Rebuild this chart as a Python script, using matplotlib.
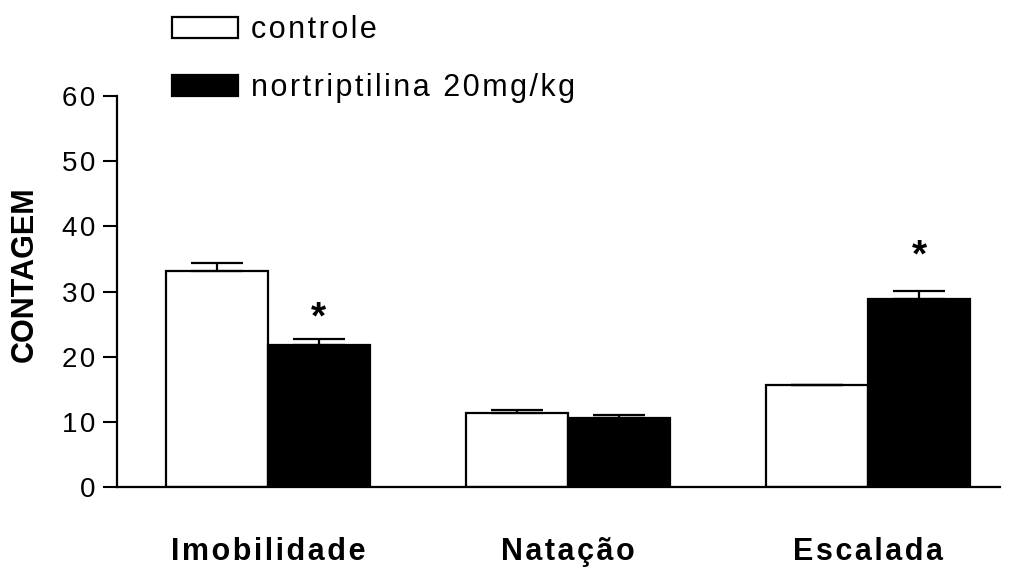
import numpy as np
import matplotlib.pyplot as plt

plt.rcParams['font.family'] = ['Liberation Sans', 'DejaVu Sans']

# data
groups = ['Imobilidade', 'Natação', 'Escalada']
controle = [33.1, 11.4, 15.6]
controle_sem = [1.2, 0.4, 0.0]
nortrip = [21.8, 10.6, 28.9]
nortrip_sem = [0.9, 0.5, 1.2]
star_height = [25.9, None, 35.4]   # where the '*' sits (nortriptilina bars)
yticks = [0, 10, 20, 30, 40, 50, 60]
labels = ['controle', 'nortriptilina 20mg/kg']


def spaced(s, sep='\u200a'):
    # the original uses slightly wide letter spacing
    return sep.join(s)


fig = plt.figure(figsize=(10.11, 5.71), dpi=100)
ax = fig.add_axes([117 / 1011, 84 / 571, 883 / 1011, 391 / 571])

x = np.arange(len(groups))
w = 0.34
b1 = ax.bar(x - w / 2, controle, w, color='white', edgecolor='black',
            linewidth=1.6, label=spaced(labels[0]), zorder=2)
b2 = ax.bar(x + w / 2, nortrip, w, color='black', edgecolor='black',
            linewidth=1.6, label=spaced(labels[1]), zorder=2)

ax.errorbar(x - w / 2, controle, yerr=[np.zeros(len(x)), controle_sem],
            fmt='none', ecolor='black', elinewidth=1.6, capsize=18.5,
            capthick=1.6, zorder=3)
ax.errorbar(x + w / 2, nortrip, yerr=[np.zeros(len(x)), nortrip_sem],
            fmt='none', ecolor='black', elinewidth=1.6, capsize=18.5,
            capthick=1.6, zorder=3)

for i, h in enumerate(star_height):
    if h is not None:
        ax.text(x[i] + w / 2, h, '*', ha='center', va='center',
                fontsize=28, fontweight='bold')

ax.set_xlim(-0.503, 2.44)
ax.set_ylim(0, 60)
ax.set_yticks(yticks)
ax.set_yticklabels([spaced(str(t)) for t in yticks], fontsize=20)
ax.set_xticks(x)
ax.set_xticklabels([spaced(g) for g in groups], fontsize=22,
                   fontweight='bold')
ax.tick_params(axis='x', length=0, pad=36)
ax.tick_params(axis='y', length=10, width=1.5, pad=5.5)

for s in ['top', 'right']:
    ax.spines[s].set_visible(False)
for s in ['left', 'bottom']:
    ax.spines[s].set_linewidth(1.6)

fig.text(25 / 1011, 1 - 274 / 571, 'CONTAGEM', rotation=90, ha='center',
         va='center', fontsize=22, fontweight='bold')

fig.legend(handles=[b1, b2], loc='upper left',
           bbox_to_anchor=(172 / 1011, 1 - 15 / 571), frameon=False,
           fontsize=22, handlelength=2.16, handleheight=0.69,
           handletextpad=0.42, labelspacing=0.93, borderpad=0,
           borderaxespad=0)

fig.savefig('out.png', dpi=100)
